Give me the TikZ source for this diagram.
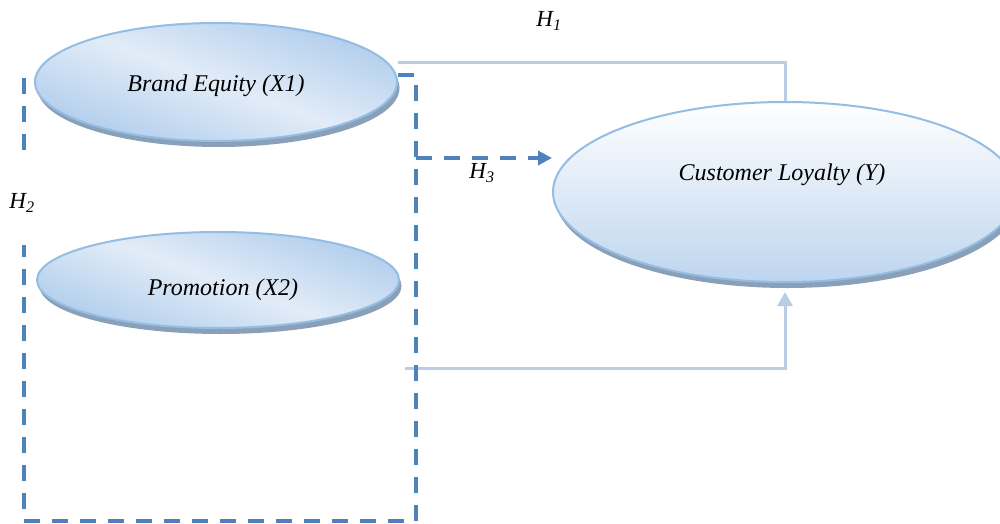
\documentclass[tikz,border=0pt]{standalone}
\usepackage{fontspec}
\setmainfont{Liberation Serif}
\usetikzlibrary{arrows.meta,positioning,shapes.geometric,shadows}
\definecolor{ovlight}{RGB}{226,236,248}
\definecolor{ovdark}{RGB}{176,205,236}
\definecolor{ovrim}{RGB}{148,189,227}
\definecolor{ovshadow}{RGB}{138,160,184}
\definecolor{ylow}{RGB}{190,213,239}
\definecolor{hdark}{RGB}{79,129,189}
\definecolor{hlight}{RGB}{185,205,229}

\begin{document}
\begin{tikzpicture}[x=1pt,y=-1pt,
  latent/.style={ellipse,draw=ovrim,line width=2pt,inner sep=0pt,
    general shadow={fill=ovshadow,shadow xshift=2.5pt,shadow yshift=-6pt}},
  xvar/.style={latent,top color=ovdark,bottom color=ovdark,middle color=ovlight,
    shading angle=-20,minimum width=362pt},
  yvar/.style={latent,top color=white,bottom color=ylow,
    minimum width=464pt,minimum height=180pt},
  caption/.style={font=\fontsize{24}{28}\selectfont\itshape,inner sep=0pt},
  hpath/.style={hlight,line width=3pt},
  hdash/.style={hdark,line width=4pt,dash pattern=on 16pt off 12pt},
  hlabel/.style={font=\fontsize{23}{27}\selectfont\itshape,inner sep=0pt}]
  \useasboundingbox (0,0) rectangle (1000,524);
  % Variables
  \node[xvar,minimum height=118pt] (bx1) at (216,82) {};
  \node[xvar,minimum height=96pt] (px2) at (218,280) {};
  \node[yvar] (cly) at (785,192) {};
  \node[caption] (bx1txt) at (216,86) {Brand Equity (X1)};
  \node[caption] (px2txt) at (223,290) {Promotion (X2)};
  \node[caption] (clytxt) at (782,175) {Customer Loyalty (Y)};
  % Paths
  \coordinate (h2from) at (405,368);
  \coordinate (h3from) at (416,158);
  \draw[hpath] ([yshift=19pt]bx1.east) -| (cly.north);
  \draw[hpath,-{Triangle[length=14pt,width=15pt]},shorten >=9pt] (h2from) -| (cly.south);
  \draw[hdash] ([yshift=7pt]bx1.east) -| (416,521) -| (24,245);
  \draw[hdash] (24,150) -- (24,75);
  \draw[hdash,-{Triangle[length=14pt,width=14pt]}] (h3from) -- (h3from -| cly.west);
  % Hypotheses
  \node[hlabel] (h1) at (549,21) {H\textsubscript{1}};
  \node[hlabel] (h2) at (22,203) {H\textsubscript{2}};
  \node[hlabel] (h3) at (482,173) {H\textsubscript{3}};
\end{tikzpicture}
\end{document}
